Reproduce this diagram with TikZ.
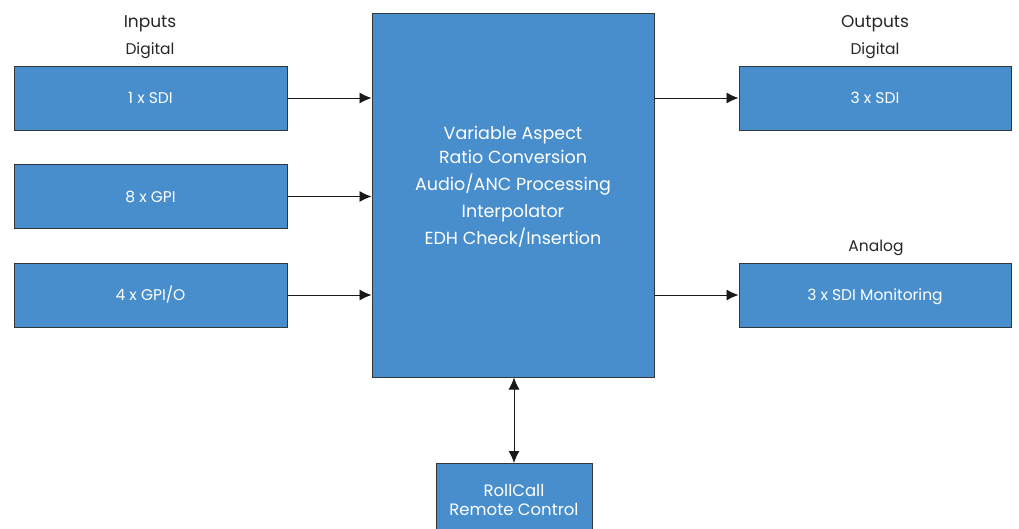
\documentclass[tikz,border=0pt]{standalone}
\usepackage{fontspec}
\setmainfont{Poppins}
\usepackage{xcolor}
\usetikzlibrary{arrows.meta}
\definecolor{boxblue}{RGB}{72,142,204}
\definecolor{boxline}{RGB}{50,55,60}
\tikzset{
  blockbox/.style={draw=boxline, fill=boxblue, text=white, line width=1pt, inner sep=0pt, text height=11pt, text depth=0pt, font=\fontsize{15.5}{17}\selectfont},
  headtext/.style={text=black!85, font=\fontsize{17}{19}\selectfont},
  subtext/.style={text=black!85, font=\fontsize{15.5}{17}\selectfont},
  link/.style={draw=black!90, line width=0.9pt, -{Latex[length=12pt,width=11pt]}}
}

\begin{document}
\begin{tikzpicture}[x=1pt,y=-1pt]
\useasboundingbox (0,0) rectangle (1019,528);
% input side
\node[headtext] (inputs) at (150,24) {Inputs};
\node[subtext] (indigital) at (150,51) {Digital};
\node[blockbox, minimum width=273pt, minimum height=64pt] (sdiin) at (150.5,98) {1 x SDI};
\node[blockbox, minimum width=273pt, minimum height=64pt] (gpi) at (150.5,196.5) {8 x GPI};
\node[blockbox, minimum width=273pt, minimum height=64pt] (gpio) at (150.5,295) {4 x GPI/O};
% main block
\node[blockbox, minimum width=282pt, minimum height=364pt] (core) at (513,195) {};
\node[text=white, align=center, font=\fontsize{17.5}{27}\selectfont] (coretext) at (513,187)
  {Variable Aspect\\[-3pt] Ratio Conversion\\ Audio/ANC Processing\\ Interpolator\\ EDH Check/Insertion};
% output side
\node[headtext] (outputs) at (875,24) {Outputs};
\node[subtext] (outdigital) at (875,51) {Digital};
\node[blockbox, minimum width=272pt, minimum height=64pt] (sdiout) at (875,98) {3 x SDI};
\node[subtext] (analog) at (876,248) {Analog};
\node[blockbox, minimum width=272pt, minimum height=64pt] (monitor) at (875,295) {3 x SDI Monitoring};
% remote control
\node[blockbox, minimum width=156pt, minimum height=90pt, align=center, anchor=north, text height=, text depth=, font=\fontsize{16.5}{19}\selectfont] (rollcall) at (514,463)
  {\raisebox{33pt}{}RollCall\\ Remote Control\\[24pt]};
% connectors
\draw[link] (sdiin.east) -- (sdiin.east -| core.west);
\draw[link] (gpi.east) -- (gpi.east -| core.west);
\draw[link] (gpio.east) -- (gpio.east -| core.west);
\draw[link] (sdiout.west -| core.east) -- (sdiout.west);
\draw[link] (monitor.west -| core.east) -- (monitor.west);
\draw[link, {Latex[length=12pt,width=11pt]}-{Latex[length=12pt,width=11pt]}] (rollcall.north) -- (rollcall.north |- core.south);
\end{tikzpicture}
\end{document}
